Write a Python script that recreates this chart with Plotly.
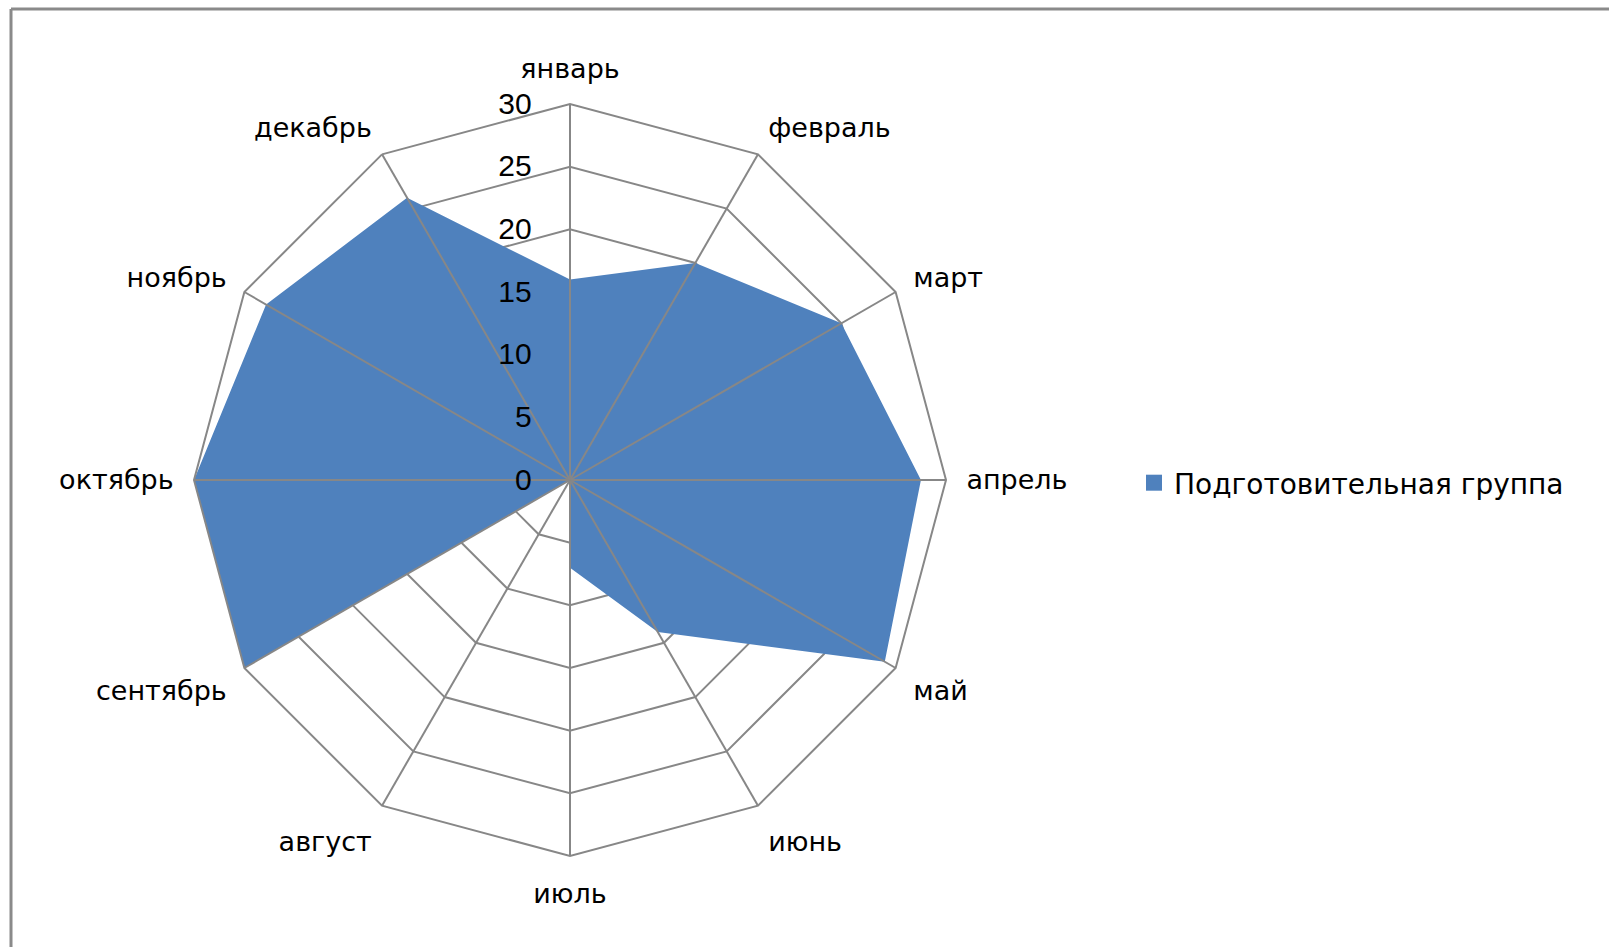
import plotly.graph_objects as go

# Monthly values for the preparatory group
months = ["январь", "февраль", "март", "апрель", "май", "июнь",
          "июль", "август", "сентябрь", "октябрь", "ноябрь", "декабрь"]
values = [16, 20, 25, 28, 29, 14, 7, 0, 30, 30, 28, 26]
series_name = "Подготовительная группа"
radial_ticks = [0, 5, 10, 15, 20, 25, 30]

W, H = 1609, 947
cx, cy, R = 570, 480, 376  # plot centre and outer radius in pixels

fill_color = "#4F81BD"
grid_color = "#878787"

fig = go.Figure()

# filled area of the series
fig.add_trace(go.Scatterpolar(
    r=values + values[:1],
    theta=months + months[:1],
    mode="lines",
    fill="toself",
    fillcolor=fill_color,
    line=dict(color=fill_color, width=0),
    name=series_name,
    showlegend=False,
    hoverinfo="skip",
))

# spokes stay visible on top of the filled area
for m in months:
    fig.add_trace(go.Scatterpolar(
        r=[0, radial_ticks[-1]],
        theta=[m, m],
        mode="lines",
        line=dict(color=grid_color, width=2),
        showlegend=False,
        hoverinfo="skip",
    ))

# legend entry with a square swatch
fig.add_trace(go.Scatterpolar(
    r=[None], theta=[months[0]],
    mode="markers",
    marker=dict(symbol="square", size=19, color=fill_color),
    name=series_name,
    showlegend=True,
))

nb = "\u00a0"

fig.update_layout(
    width=W, height=H,
    margin=dict(l=0, r=0, t=0, b=0),
    paper_bgcolor="white",
    plot_bgcolor="white",
    font=dict(family="DejaVu Sans", size=27, color="black"),
    showlegend=True,
    legend=dict(
        x=1134 / W, y=1 - 483 / H, xanchor="left", yanchor="middle",
        font=dict(family="DejaVu Sans", size=28, color="black"),
        bgcolor="rgba(0,0,0,0)",
        itemwidth=30,
    ),
    polar=dict(
        domain=dict(x=[(cx - R) / W, (cx + R) / W],
                    y=[(H - cy - R) / H, (H - cy + R) / H]),
        gridshape="linear",
        bgcolor="white",
        angularaxis=dict(
            direction="clockwise",
            rotation=90,
            categoryorder="array",
            categoryarray=months,
            showline=True,
            linecolor=grid_color,
            linewidth=2,
            showgrid=False,
            ticks="outside",
            ticklen=14,
            tickcolor="rgba(0,0,0,0)",
            tickfont=dict(family="DejaVu Sans", size=27, color="black"),
        ),
        radialaxis=dict(
            range=[0, 30],
            angle=90,
            tickangle=90,
            tickvals=radial_ticks,
            ticktext=[str(v) + nb * 4 for v in radial_ticks],
            showline=False,
            showgrid=True,
            gridcolor=grid_color,
            gridwidth=2,
            ticks="",
            side="counterclockwise",
            tickfont=dict(family="Liberation Sans", size=30, color="black"),
            layer="above traces",
        ),
    ),
    shapes=[
        dict(type="line", xref="paper", yref="paper",
             x0=11 / W, x1=11 / W, y0=-0.01, y1=1 - 9 / H,
             line=dict(color="#8a8a8a", width=3)),
        dict(type="line", xref="paper", yref="paper",
             x0=11 / W, x1=1.01, y0=1 - 9 / H, y1=1 - 9 / H,
             line=dict(color="#8a8a8a", width=3)),
    ],
)

fig.write_html("out.html")
